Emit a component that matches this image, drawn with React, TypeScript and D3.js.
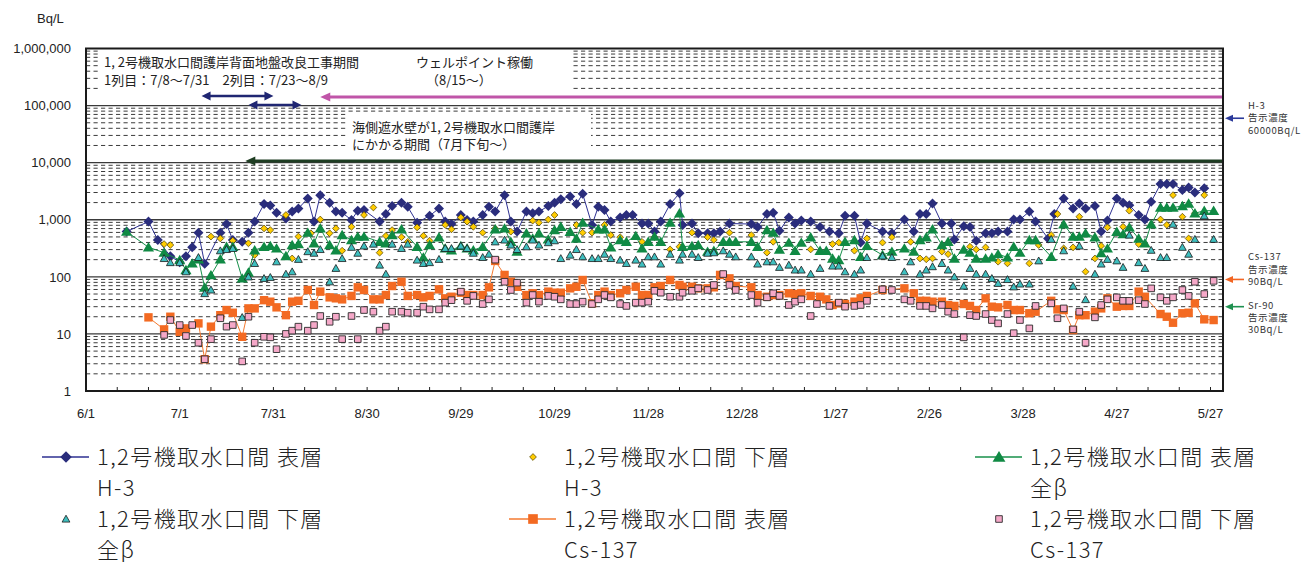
import React from 'react';
import * as d3 from 'd3';

type Pt = [string, number];

// 1,2号機取水口間 表層 H-3
const SURFACE_H3: Pt[] = [
  ['6/14', 620], ['6/21', 930], ['6/24', 440], ['6/28', 230], ['7/1', 180], ['7/3', 230], ['7/5', 330], ['7/7', 590],
  ['7/9', 170], ['7/14', 590], ['7/16', 840], ['7/18', 440], ['7/21', 410], ['7/23', 590], ['7/25', 930], ['7/28', 1880],
  ['7/30', 1780], ['8/1', 1330], ['8/4', 1050], ['8/6', 1390], ['8/8', 1580], ['8/11', 2360], ['8/13', 930], ['8/15', 2700],
  ['8/18', 1980], ['8/20', 1390], ['8/22', 1330], ['8/25', 990], ['8/27', 1440], ['8/29', 1480], ['9/3', 930], ['9/5', 1260],
  ['9/7', 1740], ['9/10', 1980], ['9/12', 1690], ['9/15', 890], ['9/19', 1170], ['9/22', 1580], ['9/24', 930], ['9/26', 840],
  ['9/29', 1210], ['10/1', 990], ['10/3', 930], ['10/6', 1210], ['10/8', 1690], ['10/10', 1390], ['10/13', 2700], ['10/15', 930],
  ['10/17', 620], ['10/20', 1390], ['10/22', 1300], ['10/24', 1390], ['10/27', 1740], ['10/29', 1980], ['10/31', 2290], ['11/3', 2560],
  ['11/5', 1880], ['11/7', 2840], ['11/10', 810], ['11/12', 1690], ['11/14', 1480], ['11/16', 930], ['11/19', 1100], ['11/21', 1210],
  ['11/23', 1210], ['11/26', 860], ['11/28', 860], ['11/30', 620], ['12/2', 930], ['12/5', 1880], ['12/8', 2900], ['12/9', 810],
  ['12/12', 860], ['12/14', 580], ['12/17', 580], ['12/19', 580], ['12/21', 620], ['12/24', 860], ['12/31', 840], ['1/2', 750],
  ['1/5', 1260], ['1/7', 1330], ['1/9', 640], ['1/12', 1100], ['1/14', 860], ['1/16', 970], ['1/19', 930], ['1/22', 750],
  ['1/25', 620], ['1/28', 580], ['1/30', 1170], ['2/2', 1170], ['2/4', 400], ['2/6', 860], ['2/11', 620], ['2/14', 580],
  ['2/18', 1010], ['2/21', 620], ['2/23', 1260], ['2/25', 1260], ['2/27', 1930], ['3/2', 860], ['3/5', 860], ['3/6', 450],
  ['3/9', 770], ['3/11', 750], ['3/13', 430], ['3/16', 580], ['3/18', 580], ['3/20', 620], ['3/23', 620], ['3/25', 1010],
  ['3/27', 1010], ['3/30', 1390], ['4/1', 930], ['4/5', 470], ['4/7', 1260], ['4/10', 2360], ['4/13', 1580], ['4/15', 1930],
  ['4/17', 1580], ['4/20', 1740], ['4/22', 620], ['4/24', 970], ['4/27', 2360], ['4/29', 1980], ['5/1', 1800], ['5/4', 1210],
  ['5/6', 1010], ['5/8', 2060], ['5/11', 4220], ['5/13', 4220], ['5/15', 4220], ['5/18', 3320], ['5/20', 3680], ['5/22', 3000],
  ['5/25', 3550],
];

// 1,2号機取水口間 下層 H-3
const BOTTOM_H3: Pt[] = [
  ['6/26', 375], ['6/28', 361], ['7/11', 507], ['7/14', 470], ['7/18', 430], ['7/23', 387], ['7/25', 241], ['7/28', 705],
  ['7/30', 660], ['8/4', 1210], ['8/6', 210], ['8/8', 507], ['8/12', 580], ['8/15', 1010], ['8/18', 580], ['8/20', 705],
  ['8/22', 287], ['8/25', 753], ['8/29', 1210], ['9/1', 1640], ['9/3', 265], ['9/5', 522], ['9/7', 660], ['9/10', 495],
  ['9/12', 411], ['9/15', 735], ['9/17', 522], ['9/19', 430], ['9/24', 810], ['9/26', 680], ['9/29', 1100], ['10/1', 926],
  ['10/3', 753], ['10/6', 594], ['10/10', 705], ['10/15', 618], ['10/22', 965], ['10/24', 890], ['10/27', 1010], ['10/29', 1210],
  ['11/5', 810], ['11/7', 594], ['11/10', 594], ['11/14', 810], ['11/16', 540], ['11/19', 495], ['11/26', 411], ['11/30', 495],
  ['12/5', 302], ['12/8', 337], ['12/12', 594], ['12/17', 495], ['12/19', 443], ['12/24', 594], ['12/31', 540], ['1/5', 265],
  ['1/7', 411], ['1/19', 302], ['1/26', 375], ['1/28', 398], ['2/2', 287], ['2/6', 470], ['2/11', 398], ['2/14', 495],
  ['2/20', 411], ['2/23', 210], ['2/25', 203], ['2/27', 210], ['3/2', 277], ['3/4', 250], ['3/11', 337], ['3/13', 302],
  ['3/16', 328], ['3/20', 184], ['3/23', 172], ['3/30', 172], ['4/2', 361], ['4/6', 540], ['4/8', 1260], ['4/10', 315],
  ['4/13', 328], ['4/15', 1130], ['4/17', 123], ['4/20', 210], ['4/22', 348], ['4/24', 735], ['4/29', 753], ['5/1', 1440],
  ['5/4', 375], ['5/11', 1010], ['5/13', 810], ['5/15', 2700], ['5/18', 1130], ['5/20', 470], ['5/22', 1300], ['5/25', 2700],
];

// 1,2号機取水口間 表層 全β
const SURFACE_BETA: Pt[] = [
  ['6/14', 620], ['6/21', 330], ['6/26', 265], ['7/1', 197], ['7/3', 132], ['7/5', 172], ['7/7', 203], ['7/9', 65],
  ['7/11', 107], ['7/14', 203], ['7/16', 337], ['7/18', 337], ['7/21', 94], ['7/23', 119], ['7/25', 293], ['7/28', 337],
  ['7/30', 348], ['8/1', 315], ['8/4', 232], ['8/6', 361], ['8/8', 375], ['8/11', 594], ['8/13', 387], ['8/15', 705],
  ['8/18', 361], ['8/20', 293], ['8/22', 540], ['8/25', 443], ['8/27', 507], ['8/29', 507], ['9/3', 411], ['9/5', 387],
  ['9/7', 540], ['9/10', 680], ['9/15', 337], ['9/17', 219], ['9/19', 361], ['9/22', 495], ['9/24', 315], ['9/26', 293],
  ['9/29', 348], ['10/1', 315], ['10/3', 293], ['10/6', 337], ['10/10', 680], ['10/13', 705], ['10/15', 411], ['10/17', 277],
  ['10/20', 580], ['10/22', 470], ['10/24', 580], ['10/27', 454], ['10/29', 660], ['10/31', 753], ['11/3', 618], ['11/5', 470],
  ['11/7', 890], ['11/12', 680], ['11/14', 680], ['11/16', 330], ['11/19', 443], ['11/21', 411], ['11/24', 522], ['11/26', 315],
  ['11/28', 411], ['11/30', 507], ['12/2', 411], ['12/5', 890], ['12/8', 1300], ['12/9', 337], ['12/12', 348], ['12/14', 361],
  ['12/17', 277], ['12/19', 287], ['12/22', 411], ['12/24', 411], ['12/26', 411], ['12/31', 411], ['1/2', 337], ['1/5', 660],
  ['1/7', 594], ['1/9', 302], ['1/12', 398], ['1/14', 287], ['1/16', 398], ['1/19', 495], ['1/22', 287], ['1/24', 287],
  ['1/26', 210], ['1/28', 197], ['1/30', 411], ['2/2', 443], ['2/4', 225], ['2/6', 348], ['2/11', 241], ['2/14', 277],
  ['2/18', 315], ['2/21', 277], ['2/23', 443], ['2/25', 495], ['2/27', 680], ['3/2', 361], ['3/4', 411], ['3/6', 210],
  ['3/9', 302], ['3/11', 265], ['3/13', 210], ['3/16', 210], ['3/18', 219], ['3/20', 250], ['3/23', 219], ['3/25', 337],
  ['3/27', 265], ['3/30', 443], ['4/1', 443], ['4/6', 225], ['4/10', 836], ['4/13', 507], ['4/15', 507], ['4/17', 580],
  ['4/20', 495], ['4/22', 260], ['4/24', 315], ['4/27', 618], ['4/29', 560], ['5/1', 735], ['5/4', 470], ['5/6', 387],
  ['5/8', 836], ['5/11', 1640], ['5/13', 1640], ['5/15', 1640], ['5/18', 1740], ['5/20', 1930], ['5/22', 1300], ['5/25', 1440],
  ['5/28', 1440],
];

// 1,2号機取水口間 下層 全β
const BOTTOM_BETA: Pt[] = [
  ['6/26', 210], ['6/28', 178], ['7/1', 178], ['7/3', 123], ['7/7', 219], ['7/9', 51], ['7/11', 59], ['7/14', 287],
  ['7/16', 302], ['7/18', 315], ['7/21', 19.5], ['7/23', 100], ['7/25', 172], ['7/28', 94], ['7/30', 98], ['8/1', 184],
  ['8/4', 112], ['8/6', 123], ['8/8', 203], ['8/11', 277], ['8/13', 260], ['8/15', 302], ['8/18', 82], ['8/20', 141],
  ['8/22', 210], ['8/25', 330], ['8/27', 260], ['8/29', 348], ['9/1', 375], ['9/3', 161], ['9/5', 112], ['9/7', 375],
  ['9/10', 315], ['9/12', 375], ['9/15', 197], ['9/17', 172], ['9/19', 178], ['9/22', 203], ['9/24', 315], ['9/26', 315],
  ['9/29', 348], ['10/1', 315], ['10/3', 260], ['10/6', 219], ['10/8', 250], ['10/10', 411], ['10/13', 443], ['10/15', 361],
  ['10/17', 302], ['10/20', 337], ['10/22', 443], ['10/24', 361], ['10/27', 398], ['10/29', 430], ['10/31', 210], ['11/3', 241],
  ['11/5', 302], ['11/7', 225], ['11/10', 210], ['11/12', 210], ['11/14', 250], ['11/16', 210], ['11/19', 197], ['11/21', 172],
  ['11/24', 197], ['11/26', 168], ['11/28', 225], ['11/30', 225], ['12/2', 168], ['12/5', 250], ['12/8', 197], ['12/9', 250],
  ['12/12', 250], ['12/14', 219], ['12/17', 260], ['12/19', 265], ['12/22', 287], ['12/24', 250], ['12/26', 225], ['12/31', 225],
  ['1/2', 168], ['1/5', 184], ['1/7', 184], ['1/9', 147], ['1/12', 161], ['1/14', 132], ['1/16', 132], ['1/19', 112],
  ['1/22', 141], ['1/26', 155], ['1/28', 155], ['1/30', 123], ['2/2', 112], ['2/4', 132], ['2/6', 219], ['2/11', 232],
  ['2/14', 219], ['2/18', 123], ['2/20', 184], ['2/23', 112], ['2/25', 132], ['2/27', 151], ['3/2', 172], ['3/4', 132],
  ['3/6', 100], ['3/9', 69], ['3/11', 141], ['3/13', 112], ['3/16', 112], ['3/18', 94], ['3/20', 77], ['3/23', 90],
  ['3/25', 67], ['3/27', 75], ['3/30', 75], ['4/2', 191], ['4/6', 455], ['4/10', 287], ['4/13', 69], ['4/15', 348],
  ['4/17', 40], ['4/20', 112], ['4/22', 168], ['4/24', 203], ['4/27', 191], ['4/29', 147], ['5/1', 540], ['5/4', 178],
  ['5/6', 141], ['5/8', 293], ['5/11', 219], ['5/13', 219], ['5/15', 836], ['5/18', 330], ['5/20', 250], ['5/22', 455],
  ['5/25', 1170], ['5/28', 455],
];

// 1,2号機取水口間 表層 Cs-137
const SURFACE_CS: Pt[] = [
  ['6/21', 19.5], ['6/26', 12], ['6/28', 20], ['7/1', 10.9], ['7/3', 12.5], ['7/7', 15.3], ['7/9', 3.6], ['7/11', 13.4],
  ['7/14', 21.3], ['7/16', 26.2], ['7/18', 23.5], ['7/21', 8.9], ['7/23', 28], ['7/25', 28], ['7/28', 39], ['7/30', 36.7],
  ['8/1', 29.2], ['8/4', 21.3], ['8/6', 36.7], ['8/8', 38], ['8/11', 58.8], ['8/13', 32.1], ['8/15', 55], ['8/18', 43.7],
  ['8/20', 42], ['8/22', 40.3], ['8/25', 46.3], ['8/27', 65.5], ['8/29', 58.8], ['9/1', 40.3], ['9/3', 40.3], ['9/5', 48],
  ['9/7', 69], ['9/10', 82], ['9/12', 46.3], ['9/15', 48], ['9/17', 43.7], ['9/19', 46.3], ['9/22', 60.4], ['9/24', 42],
  ['9/26', 44.8], ['9/29', 52.7], ['10/1', 48], ['10/3', 48], ['10/6', 48], ['10/8', 65.5], ['10/10', 190], ['10/13', 108],
  ['10/15', 82], ['10/17', 67], ['10/20', 48], ['10/22', 51.5], ['10/24', 48], ['10/27', 55], ['10/29', 52.7], ['10/31', 52.7],
  ['11/3', 62.8], ['11/5', 67], ['11/7', 88], ['11/10', 34.3], ['11/12', 48], ['11/14', 55], ['11/16', 48], ['11/19', 51.5],
  ['11/21', 58.8], ['11/24', 67], ['11/26', 48], ['11/28', 48], ['11/30', 65.5], ['12/2', 69], ['12/5', 88], ['12/8', 72],
  ['12/9', 67], ['12/12', 67], ['12/14', 62.8], ['12/17', 62.8], ['12/19', 65.5], ['12/21', 108], ['12/24', 94], ['12/26', 69],
  ['12/31', 65.5], ['1/2', 48], ['1/5', 44.8], ['1/7', 48], ['1/9', 48], ['1/12', 51.5], ['1/14', 50], ['1/16', 51.5],
  ['1/19', 46.3], ['1/22', 44.8], ['1/24', 40.3], ['1/26', 32.1], ['1/28', 34.3], ['1/30', 33.4], ['2/2', 36.7], ['2/4', 42],
  ['2/6', 46.3], ['2/11', 58.8], ['2/18', 62.8], ['2/21', 51.5], ['2/23', 38], ['2/25', 38], ['2/27', 36.7], ['3/2', 36.7],
  ['3/4', 32.1], ['3/6', 30.9], ['3/9', 33.4], ['3/11', 30.9], ['3/13', 26.2], ['3/16', 42], ['3/18', 30], ['3/20', 29.2],
  ['3/23', 32.1], ['3/25', 26.2], ['3/27', 26.2], ['3/30', 23], ['4/1', 24.5], ['4/6', 38], ['4/8', 26.9], ['4/10', 26.2],
  ['4/13', 11.7], ['4/15', 21.3], ['4/17', 21.3], ['4/20', 24.5], ['4/22', 28], ['4/24', 42], ['4/27', 30], ['4/29', 30.9],
  ['5/1', 30.9], ['5/4', 55], ['5/6', 44.8], ['5/11', 22.3], ['5/13', 20], ['5/15', 15.7], ['5/18', 23], ['5/20', 23.5],
  ['5/22', 34.3], ['5/25', 18], ['5/28', 17.5],
];

// 1,2号機取水口間 下層 Cs-137
const BOTTOM_CS: Pt[] = [
  ['6/26', 9.6], ['6/28', 17.5], ['7/1', 14.3], ['7/3', 9.2], ['7/5', 14.3], ['7/7', 7], ['7/9', 3.6], ['7/11', 8.1],
  ['7/14', 18.8], ['7/16', 13.4], ['7/18', 14.3], ['7/21', 3.3], ['7/23', 20], ['7/25', 7], ['7/28', 8.9], ['7/30', 8.7],
  ['8/1', 5.4], ['8/4', 10], ['8/6', 11.4], ['8/8', 13.4], ['8/11', 11.4], ['8/13', 14.3], ['8/15', 20.6], ['8/18', 16.3],
  ['8/20', 20], ['8/22', 8.1], ['8/25', 20.6], ['8/27', 8.1], ['8/29', 26.2], ['9/1', 24.5], ['9/3', 11.4], ['9/5', 13.4],
  ['9/7', 24.5], ['9/10', 24.5], ['9/12', 23.5], ['9/15', 23.5], ['9/17', 30], ['9/19', 26.9], ['9/22', 26.9], ['9/24', 35.3],
  ['9/26', 39], ['9/29', 55], ['10/1', 38], ['10/3', 46.3], ['10/6', 33.4], ['10/8', 40.3], ['10/10', 200], ['10/13', 82],
  ['10/15', 58.8], ['10/17', 79], ['10/20', 35.3], ['10/22', 48], ['10/24', 36.7], ['10/27', 46.3], ['10/29', 44.8], ['10/31', 40.3],
  ['11/3', 33.4], ['11/5', 33.4], ['11/7', 36.7], ['11/10', 33.4], ['11/12', 40.3], ['11/14', 48], ['11/16', 43.7], ['11/19', 33.4],
  ['11/21', 30.9], ['11/24', 35.3], ['11/26', 35.3], ['11/28', 36.7], ['11/30', 57], ['12/2', 52.7], ['12/5', 44.8], ['12/8', 44.8],
  ['12/9', 52.7], ['12/12', 57], ['12/14', 62.8], ['12/17', 58.8], ['12/19', 72], ['12/22', 112], ['12/24', 72], ['12/26', 58.8],
  ['12/31', 48], ['1/2', 35.3], ['1/5', 43.7], ['1/7', 51.5], ['1/9', 46.3], ['1/12', 32.1], ['1/14', 36.7], ['1/16', 40.3],
  ['1/19', 20.6], ['1/21', 33.4], ['1/25', 30.9], ['1/28', 35.3], ['1/30', 30], ['2/2', 30.9], ['2/4', 32.1], ['2/6', 38],
  ['2/11', 60.4], ['2/14', 58.8], ['2/18', 40.3], ['2/20', 38], ['2/23', 30.9], ['2/25', 30.9], ['2/27', 28], ['3/2', 32.1],
  ['3/4', 24.5], ['3/6', 22.3], ['3/9', 8.7], ['3/11', 21.3], ['3/13', 20.6], ['3/16', 22.3], ['3/18', 17.5], ['3/20', 15.3],
  ['3/23', 22.3], ['3/25', 10.3], ['3/27', 17.5], ['3/30', 12.5], ['4/1', 30.9], ['4/6', 34.3], ['4/8', 18.8], ['4/10', 28],
  ['4/13', 12], ['4/15', 24.5], ['4/17', 7], ['4/20', 19.5], ['4/22', 32.1], ['4/24', 40.3], ['4/27', 43.7], ['4/29', 38],
  ['5/1', 38], ['5/4', 39], ['5/6', 33.4], ['5/8', 62.8], ['5/11', 43.7], ['5/13', 38], ['5/15', 43.7], ['5/18', 58.8],
  ['5/20', 46.3], ['5/22', 82], ['5/25', 50], ['5/28', 85],
];

const X_TICK_LABELS = ['6/1', '7/1', '7/31', '8/30', '9/29', '10/29', '11/28', '12/28', '1/27', '2/26', '3/28', '4/27', '5/27'];
const Y_TICK_VALUES = [1, 10, 100, 1000, 10000, 100000, 1000000];

// Regulatory limits shown at the right edge
const LIMITS = [
  { lines: ['H-3', '告示濃度', '60000Bq/L'], value: 60000, color: '#2b3a9a', textShift: 3 },
  { lines: ['Cs-137', '告示濃度', '90Bq/L'], value: 90, color: '#f26522', textShift: -7 },
  { lines: ['Sr-90', '告示濃度', '30Bq/L'], value: 30, color: '#1f9150', textShift: 14 },
];

// Work periods (dates)
const ROW1_PERIOD = ['7/8', '7/31'];
const ROW2_PERIOD = ['7/23', '8/9'];
const WELLPOINT_START = '8/15';
const SEAWALL_START = '7/22';

const parseDay = (s: string): Date => {
  const [m, d] = s.split('/').map(Number);
  return new Date(m >= 6 ? 2013 : 2014, m - 1, d);
};

const W = 1306;
const H = 563;
const PL = 86;
const PR = 1223;
const PT = 48.5;
const PB = 391;

const x = d3.scaleTime().domain([new Date(2013, 5, 1), new Date(2014, 4, 31)]).range([PL, PR]);
const y = d3.scaleLog().domain([1, 1e6]).range([PB, PT]);

const FONT_JP = "'Noto Sans CJK JP', 'Noto Sans', sans-serif";
const FONT_NUM = "'Liberation Sans', Arial, sans-serif";
const FONT_NARROW = "'Liberation Sans Narrow', 'Arial Narrow', 'Liberation Sans', sans-serif";

type MarkerKind = 'bigDiamond' | 'smallDiamond' | 'bigTriangle' | 'smallTriangle' | 'bigSquare' | 'smallSquare';

const markerPath = (kind: MarkerKind): string => {
  switch (kind) {
    case 'bigDiamond': return 'M0,-5L5,0L0,5L-5,0Z';
    case 'smallDiamond': return 'M0,-3.4L3.4,0L0,3.4L-3.4,0Z';
    case 'bigTriangle': return 'M0,-5.2L5.6,4.2L-5.6,4.2Z';
    case 'smallTriangle': return 'M0,-3.8L3.9,3.1L-3.9,3.1Z';
    case 'bigSquare': return 'M-4.2,-4.2H4.2V4.2H-4.2Z';
    case 'smallSquare': return 'M-3.3,-3.3H3.3V3.3H-3.3Z';
  }
};

interface SeriesDef {
  key: string;
  data: Pt[];
  marker: MarkerKind;
  fill: string;
  stroke: string;
  strokeWidth: number;
  line: string | null;
  label: [string, string];
}

const SERIES: SeriesDef[] = [
  { key: 'sH3', data: SURFACE_H3, marker: 'bigDiamond', fill: '#2a2d7c', stroke: 'none', strokeWidth: 0, line: '#2e3192', label: ['1,2号機取水口間 表層', 'H-3'] },
  { key: 'bH3', data: BOTTOM_H3, marker: 'smallDiamond', fill: '#ffcc00', stroke: '#4a3c00', strokeWidth: 0.7, line: null, label: ['1,2号機取水口間 下層', 'H-3'] },
  { key: 'sB', data: SURFACE_BETA, marker: 'bigTriangle', fill: '#108a44', stroke: 'none', strokeWidth: 0, line: '#17904a', label: ['1,2号機取水口間 表層', '全β'] },
  { key: 'bB', data: BOTTOM_BETA, marker: 'smallTriangle', fill: '#3ebfbf', stroke: '#1a1a1a', strokeWidth: 0.8, line: null, label: ['1,2号機取水口間 下層', '全β'] },
  { key: 'sCs', data: SURFACE_CS, marker: 'bigSquare', fill: '#f36a22', stroke: 'none', strokeWidth: 0, line: '#f47a30', label: ['1,2号機取水口間 表層', 'Cs-137'] },
  { key: 'bCs', data: BOTTOM_CS, marker: 'smallSquare', fill: '#f5a8c8', stroke: '#2a2a2a', strokeWidth: 0.9, line: null, label: ['1,2号機取水口間 下層', 'Cs-137'] },
];

// Legend slot order (row-major, 3 columns)
const LEGEND_ORDER = ['sH3', 'bH3', 'sB', 'bB', 'sCs', 'bCs'];
const LEGEND_COLS = [42, 509, 975];
const LEGEND_ROWS = [457, 519];

const line = d3.line<Pt>().x(d => x(parseDay(d[0]))).y(d => y(d[1]));

function HeadLeft({ tipX, cy, color, len = 9, half = 4.5 }: { tipX: number; cy: number; color: string; len?: number; half?: number }) {
  return <path d={`M${tipX},${cy}L${tipX + len},${cy - half}L${tipX + len},${cy + half}Z`} fill={color} />;
}
function HeadRight({ tipX, cy, color, len = 9, half = 4.5 }: { tipX: number; cy: number; color: string; len?: number; half?: number }) {
  return <path d={`M${tipX},${cy}L${tipX - len},${cy - half}L${tipX - len},${cy + half}Z`} fill={color} />;
}

function DoubleArrow({ from, to, cy, color }: { from: string; to: string; cy: number; color: string }) {
  const a = x(parseDay(from));
  const b = x(parseDay(to));
  return (
    <g>
      <line x1={a + 6} x2={b - 6} y1={cy} y2={cy} stroke={color} strokeWidth={2.6} />
      <HeadLeft tipX={a} cy={cy} color={color} len={9} half={4.5} />
      <HeadRight tipX={b} cy={cy} color={color} len={9} half={4.5} />
    </g>
  );
}

function LeftArrowToEdge({ from, cy, color, width }: { from: string; cy: number; color: string; width: number }) {
  const a = x(parseDay(from));
  return (
    <g>
      <line x1={a + 6} x2={PR} y1={cy} y2={cy} stroke={color} strokeWidth={width} />
      <HeadLeft tipX={a} cy={cy} color={color} len={10} half={4.5} />
    </g>
  );
}

export default function App() {
  const decades = d3.range(0, 6);
  const minor: number[] = [];
  decades.forEach(e => { for (let k = 2; k <= 9; k++) minor.push(k * Math.pow(10, e)); });
  const majors = [10, 100, 1000, 10000, 100000];

  const tickDays: Date[] = [];
  for (let d = 0; d <= 364; d += 10) tickDays.push(d3.timeDay.offset(new Date(2013, 5, 1), d));
  const labelDates = X_TICK_LABELS.map(parseDay);

  return (
    <svg width={W} height={H} viewBox={`0 0 ${W} ${H}`} style={{ position: 'absolute', left: 0, top: 0, background: '#fff' }}>
      <rect x={0} y={0} width={W} height={H} fill="#fff" />

      {/* unit */}
      <text x={37} y={23} fontFamily={FONT_NUM} fontSize={13} fill="#222">Bq/L</text>

      {/* minor gridlines */}
      {minor.map(v => (
        <line key={`m${v}`} x1={PL} x2={PR} y1={y(v)} y2={y(v)} stroke="#3c3c3c" strokeWidth={1} strokeDasharray="4.2,3.3" />
      ))}
      {/* decade gridlines */}
      {majors.map(v => (
        <line key={`M${v}`} x1={PL} x2={PR} y1={y(v)} y2={y(v)} stroke="#3a3a3a" strokeWidth={1.4} />
      ))}

      {/* y tick labels */}
      {Y_TICK_VALUES.map(v => (
        <text key={`yl${v}`} x={71} y={y(v)} dy="0.36em" textAnchor="end" fontFamily={FONT_NUM} fontSize={13} fill="#222">
          {d3.format(',')(v)}
        </text>
      ))}

      {/* x ticks and labels */}
      {tickDays.map((d, i) => (
        <line key={`xt${i}`} x1={x(d)} x2={x(d)} y1={PB} y2={PB - 4} stroke="#222" strokeWidth={1} />
      ))}
      {labelDates.map((d, i) => (
        <text key={`xl${i}`} x={x(d)} y={418} textAnchor="middle" fontFamily={FONT_NARROW} fontSize={13} fill="#222">
          {X_TICK_LABELS[i]}
        </text>
      ))}

      {/* annotation boxes */}
      <rect x={99} y={PT + 1.5} width={472} height={42} fill="#fff" />
      <rect x={348} y={113} width={243} height={38} fill="#fff" />

      <g fontFamily={FONT_JP} fontSize={13} fill="#222">
        <text x={104} y={67}>1, 2号機取水口間護岸背面地盤改良工事期間</text>
        <text x={104} y={85}>1列目：7/8～7/31　2列目：7/23～8/9</text>
        <text x={416} y={67}>ウェルポイント稼働</text>
        <text x={426} y={85}>（8/15～）</text>
        <text x={352} y={132}>海側遮水壁が1, 2号機取水口間護岸</text>
        <text x={352} y={149}>にかかる期間（7月下旬～）</text>
      </g>

      <DoubleArrow from={ROW1_PERIOD[0]} to={ROW1_PERIOD[1]} cy={96} color="#1f2672" />
      <DoubleArrow from={ROW2_PERIOD[0]} to={ROW2_PERIOD[1]} cy={105} color="#1f2672" />
      <LeftArrowToEdge from={WELLPOINT_START} cy={97} color="#c055a8" width={3} />
      <LeftArrowToEdge from={SEAWALL_START} cy={161} color="#1e3d22" width={3} />

      {/* series */}
      {SERIES.map(s => (
        <g key={s.key}>
          {s.line && <path d={line(s.data) || ''} fill="none" stroke={s.line} strokeWidth={1} />}
          {s.data.map((d, i) => (
            <path
              key={i}
              d={markerPath(s.marker)}
              transform={`translate(${x(parseDay(d[0]))},${y(d[1])})`}
              fill={s.fill}
              stroke={s.stroke}
              strokeWidth={s.strokeWidth}
            />
          ))}
        </g>
      ))}

      {/* plot frame */}
      <rect x={PL} y={PT} width={PR - PL} height={PB - PT} fill="none" stroke="#1a1a1a" strokeWidth={2} />

      {/* limit annotations */}
      {LIMITS.map(l => {
        const cy = y(l.value);
        return (
          <g key={l.lines[0]}>
            <line x1={1244} x2={1231} y1={cy} y2={cy} stroke={l.color} strokeWidth={1.6} />
            <path d={`M1225,${cy}L1233,${cy - 3.5}L1233,${cy + 3.5}Z`} fill={l.color} />
            {l.lines.map((t, i) => (
              <text key={i} x={1248} y={cy - 12 + i * 12.2 + l.textShift} fontFamily={FONT_JP} fontSize={9.5} fill="#333" letterSpacing={0.6}>
                {t}
              </text>
            ))}
          </g>
        );
      })}

      {/* legend */}
      {LEGEND_ORDER.map((k, idx) => {
        const s = SERIES.find(z => z.key === k)!;
        const cx = LEGEND_COLS[idx % 3];
        const cy = LEGEND_ROWS[Math.floor(idx / 3)];
        const mid = cx + 24;
        return (
          <g key={`lg${k}`}>
            {s.line && <line x1={cx} x2={cx + 47} y1={cy} y2={cy} stroke={s.line} strokeWidth={1.4} />}
            <path
              d={markerPath(s.marker)}
              transform={`translate(${mid},${cy})${s.line ? ' scale(1.15)' : ''}`}
              fill={s.fill}
              stroke={s.stroke}
              strokeWidth={s.strokeWidth}
            />
            <text x={cx + 55} y={cy + 8} fontFamily={FONT_JP} fontSize={22} fill="#222" fontWeight={300} letterSpacing={1.4}>{s.label[0]}</text>
            <text x={cx + 55} y={cy + 39} fontFamily={FONT_JP} fontSize={22} fill="#222" fontWeight={300} letterSpacing={1.4}>{s.label[1]}</text>
          </g>
        );
      })}
    </svg>
  );
}
